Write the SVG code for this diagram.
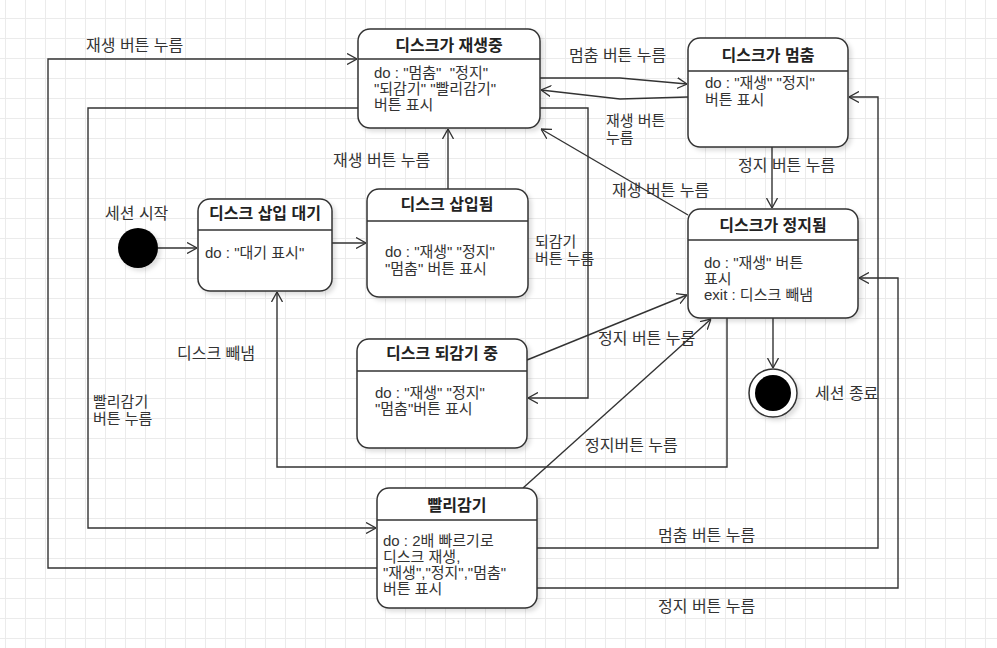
<svg xmlns="http://www.w3.org/2000/svg" width="997" height="648" viewBox="0 0 997 648">
<defs>
<pattern id="grid" x="5" y="18" width="20" height="20" patternUnits="userSpaceOnUse">
<path d="M0 0.5H20M0.5 0V20" fill="none" stroke="#ebebeb" stroke-width="1"/>
</pattern>
<filter id="sh" x="-20%" y="-20%" width="140%" height="140%">
<feDropShadow dx="3" dy="3" stdDeviation="2" flood-color="#000" flood-opacity="0.13"/>
</filter>
<marker id="ar" viewBox="0 0 10 12" refX="10" refY="6" markerWidth="10" markerHeight="12" markerUnits="userSpaceOnUse" orient="auto">
<path d="M0,0.5 L10,6 L0,11.5" fill="none" stroke="#333" stroke-width="1.3"/>
</marker>
<style>
text{font-family:"Liberation Sans","Noto Sans CJK KR",sans-serif;font-size:16px;fill:#333;white-space:pre}
.m{font-size:15px}
.h{font-weight:bold;fill:#222;text-anchor:middle}
.box{fill:#fff;stroke:#333;stroke-width:1.5;filter:url(#sh)}
.div{stroke:#333;stroke-width:1.5}
.c{fill:none;stroke:#333;stroke-width:1.4;marker-end:url(#ar)}
</style>
</defs>
<rect width="997" height="648" fill="#fff"/>
<rect width="997" height="648" fill="url(#grid)"/>

<g id="connectors">
<path class="c" d="M158 248H197"/>
<path class="c" d="M332 243H366"/>
<path class="c" d="M448 189V129"/>
<path class="c" d="M540 78L620 78L687 84"/>
<path class="c" d="M688 97L620 99L541 90"/>
<path class="c" d="M772 147V208"/>
<path class="c" d="M688 215L541 129"/>
<path class="c" d="M773 318V368"/>
<path class="c" d="M727 318V467H277V292"/>
<path class="c" d="M540 108H588V398H528"/>
<path class="c" d="M527 360L687 295"/>
<path class="c" d="M523 488L711 319"/>
<path class="c" d="M358 108H88V528H376"/>
<path class="c" d="M377 568H48V59H357"/>
<path class="c" d="M537 548H878V97H849"/>
<path class="c" d="M537 588H898V278H859"/>
</g>

<g id="labels">
<text x="86" y="51">재생 버튼 누름</text>
<text x="569" y="61">멈춤 버튼 누름</text>
<text class="m" x="606" y="126">재생 버튼<tspan x="606" dy="17">누름</tspan></text>
<text x="738" y="171">정지 버튼 누름</text>
<text x="612" y="196">재생 버튼 누름</text>
<text x="333" y="166">재생 버튼 누름</text>
<text class="m" x="535" y="247">되감기<tspan x="535" dy="17">버튼 누름</tspan></text>
<text x="105" y="219">세션 시작</text>
<text x="177" y="359">디스크 빼냄</text>
<text x="598" y="344">정지 버튼 누름</text>
<text class="m" x="93" y="407">빨리감기<tspan x="93" dy="17">버튼 누름</tspan></text>
<text x="815" y="399">세션 종료</text>
<text x="585" y="451">정지버튼 누름</text>
<text x="658" y="541">멈춤 버튼 누름</text>
<text x="658" y="612">정지 버튼 누름</text>
</g>

<g id="start">
<circle cx="138" cy="248" r="20" fill="#000" filter="url(#sh)"/>
</g>

<g id="end">
<circle cx="773" cy="393" r="24" fill="#fff" stroke="#333" stroke-width="1.5" filter="url(#sh)"/>
<circle cx="773" cy="393" r="18" fill="#000"/>
</g>

<g id="playing">
<rect class="box" x="358" y="29" width="182" height="99" rx="12"/>
<line class="div" x1="358" y1="59" x2="540" y2="59"/>
<text class="h" x="449" y="51">디스크가 재생중</text>
<text class="m" x="374" y="78">do : "멈춤"  "정지"<tspan x="374" dy="16">"되감기" "빨리감기"</tspan><tspan x="374" dy="16">버튼 표시</tspan></text>
</g>

<g id="paused">
<rect class="box" x="688" y="38" width="160" height="109" rx="12"/>
<line class="div" x1="688" y1="71" x2="848" y2="71"/>
<text class="h" x="768" y="61">디스크가 멈춤</text>
<text class="m" x="705" y="88">do : "재생" "정지"<tspan x="705" dy="17">버튼 표시</tspan></text>
</g>

<g id="waiting">
<rect class="box" x="198" y="199" width="134" height="92" rx="12"/>
<line class="div" x1="198" y1="230" x2="332" y2="230"/>
<text class="h" x="265" y="219">디스크 삽입 대기</text>
<text class="m" x="205" y="258">do : "대기 표시"</text>
</g>

<g id="inserted">
<rect class="box" x="367" y="189" width="161" height="108" rx="12"/>
<line class="div" x1="367" y1="221" x2="528" y2="221"/>
<text class="h" x="447" y="210">디스크 삽입됨</text>
<text class="m" x="385" y="257">do : "재생" "정지"<tspan x="385" dy="17">"멈춤" 버튼 표시</tspan></text>
</g>

<g id="stopped">
<rect class="box" x="688" y="209" width="170" height="109" rx="12"/>
<line class="div" x1="688" y1="240" x2="858" y2="240"/>
<text class="h" x="773" y="231">디스크가 정지됨</text>
<text class="m" x="704" y="268">do : "재생" 버튼<tspan x="704" dy="16">표시</tspan><tspan x="704" dy="16">exit : 디스크 빼냄</tspan></text>
</g>

<g id="rewinding">
<rect class="box" x="357" y="339" width="170" height="109" rx="12"/>
<line class="div" x1="357" y1="371" x2="527" y2="371"/>
<text class="h" x="442" y="359">디스크 되감기 중</text>
<text class="m" x="375" y="398">do : "재생" "정지"<tspan x="375" dy="16">"멈춤"버튼 표시</tspan></text>
</g>

<g id="fastforward">
<rect class="box" x="377" y="488" width="160" height="120" rx="12"/>
<line class="div" x1="377" y1="520" x2="537" y2="520"/>
<text class="h" x="457" y="511">빨리감기</text>
<text class="m" x="383" y="546">do : 2배 빠르기로<tspan x="383" dy="16">디스크 재생,</tspan><tspan x="383" dy="16">"재생","정지","멈춤"</tspan><tspan x="383" dy="16">버튼 표시</tspan></text>
</g>
</svg>
